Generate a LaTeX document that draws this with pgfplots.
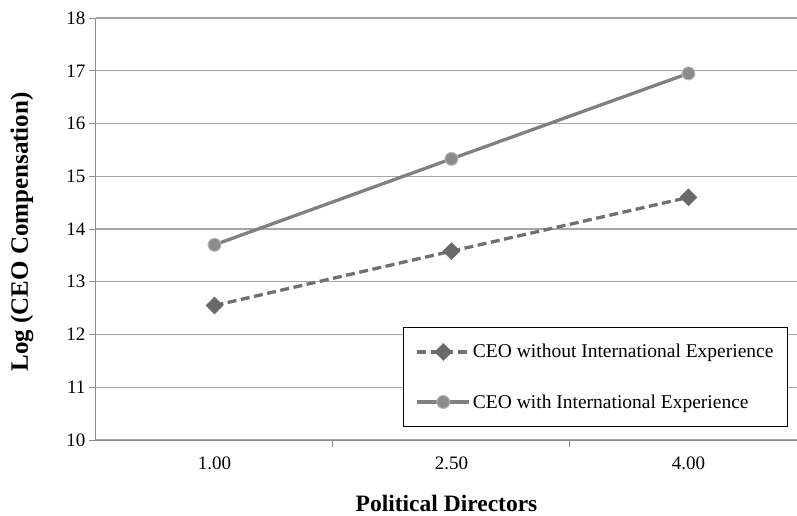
\documentclass[border=0pt]{standalone}
\usepackage{fontspec}
\setmainfont{Liberation Serif}
\usepackage{pgfplots}
\pgfplotsset{compat=1.18}
\definecolor{gridgray}{RGB}{165,165,165}
\definecolor{axgray}{RGB}{140,140,140}
\definecolor{solidgray}{RGB}{128,128,128}
\definecolor{dashgray}{RGB}{112,112,112}
\definecolor{circfill}{RGB}{140,140,140}
\definecolor{circedge}{RGB}{185,185,185}
\definecolor{diafill}{RGB}{105,105,105}
\begin{document}
\begin{tikzpicture}
\path[use as bounding box] (-96pt,-75pt) rectangle (701pt,440pt);
\begin{axis}[
  scale only axis,
  width=701pt, height=422pt,
  xmin=-0.5, xmax=2.458,
  ymin=10, ymax=18,
  ytick={10,11,12,13,14,15,16,17,18},
  xtick={0,1,2},
  xticklabels={1.00,2.50,4.00},
  minor xtick={0.5,1.5},
  axis x line*=bottom,
  axis y line*=left,
  axis line style={draw=axgray, line width=1pt, -},
  tick align=outside,
  major tick length=7pt,
  minor tick length=7pt,
  major x tick style={draw=none},
  tick style={draw=axgray, line width=1pt},
  ymajorgrids,
  grid style={draw=gridgray, line width=1.1pt},
  /pgf/number format/assume math mode=true,
  tick label style={font=\fontsize{19}{22}\selectfont},
  xticklabel style={yshift=-6pt},
  xlabel={Political Directors},
  ylabel={Log (CEO Compensation)},
  xlabel style={font=\fontsize{23.5}{26}\selectfont\bfseries, at={(axis description cs:0.5,0)}, anchor=center, yshift=-63pt},
  ylabel style={font=\fontsize{25}{28}\selectfont\bfseries, at={(axis description cs:0,0.5)}, anchor=center, xshift=-3pt, yshift=74pt},
  legend style={at={(692pt,13pt)}, anchor=south east, draw=black, line width=1pt,
    font=\fontsize{19.5}{22}\selectfont, inner xsep=12pt, inner ysep=15pt,
    row sep=31pt, legend cell align=left},
  legend image code/.code={%
    \draw[mark repeat=2,mark phase=2] plot coordinates {(0pt,0pt) (26pt,0pt) (52pt,0pt)};},
  clip=false,
]
\addplot[draw=dashgray, line width=3.3pt, dash pattern=on 9pt off 4.5pt,
  mark=square*, mark size=6pt, mark options={solid, rotate=45, fill=diafill, draw=diafill, line width=0.5pt}]
  coordinates {(0,12.55) (1,13.58) (2,14.60)};
\addlegendentry{CEO without International Experience}
\addplot[draw=solidgray, line width=3.3pt,
  mark=*, mark size=6.5pt, mark options={fill=circfill, draw=circedge, line width=1pt}]
  coordinates {(0,13.70) (1,15.33) (2,16.95)};
\addlegendentry{CEO with International Experience}
\end{axis}
\end{tikzpicture}
\end{document}
